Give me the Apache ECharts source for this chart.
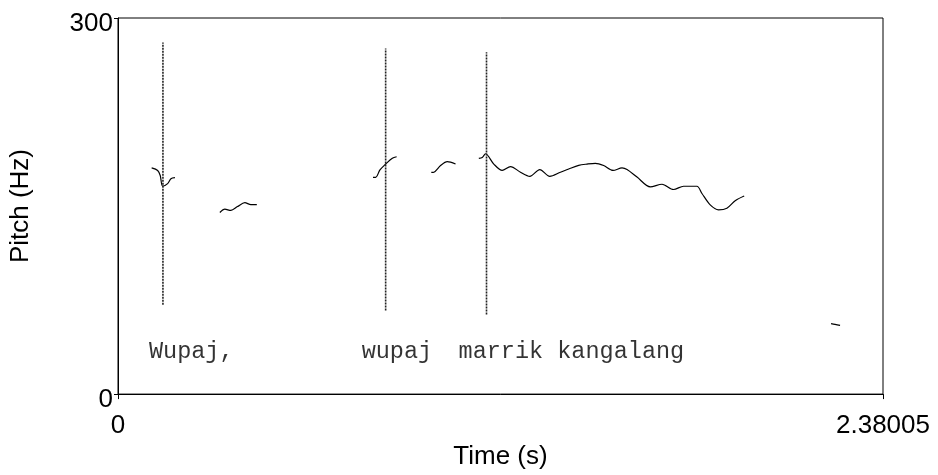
<!DOCTYPE html>
<html>
<head>
<meta charset="utf-8">
<script src="https://cdn.jsdelivr.net/npm/echarts@6/dist/echarts.min.js"></script>
<style>
  html, body { margin: 0; padding: 0; background: #fff; }
  #pitch_chart { width: 938px; height: 475px; }
</style>
</head>
<body>
<div id="pitch_chart"></div>
<script>
// pitch track, null = unvoiced gap
const pitchTimes = [
    0.1047, 0.1234, 0.1314, 0.1389, 0.1544, 0.1647, 0.1771, null,
    0.3169, 0.3325, 0.3511, 0.3719, 0.3946, 0.4133, 0.4319, null,
    0.7933, 0.8016, 0.8150, 0.8327, 0.8535, 0.8669, null,
    0.9747, 0.9828, 1.0036, 1.0244, 1.0502, null,
    1.1226, 1.1332, 1.1434, 1.1692, 1.1953, 1.2211, 1.2522, 1.2811, 1.3122, 1.3432,
    1.3765, 1.4023, 1.4333, 1.4594, 1.4852, 1.5110, 1.5402, 1.5682, 1.5837, 1.6148,
    1.6561, 1.6925, 1.7285, 1.7596, 1.8012, 1.8168, 1.8425, 1.8684, 1.8944, 1.9202,
    1.9482, null,
    2.2185, 2.2309, 2.2465
];
const pitchHz = [
    180.4, 178.4, 174.4, 165.8, 167.9, 171.8, 172.6, null,
    144.9, 147.5, 146.5, 149.6, 152.7, 151.2, 151.2, null,
    172.9, 172.9, 178.8, 183.5, 188.2, 189.3, null,
    176.8, 177.0, 182.3, 185.4, 183.5, null,
    188.0, 188.8, 191.7, 183.5, 178.4, 181.5, 177.0, 173.7, 179.1, 173.7,
    177.0, 179.6, 182.5, 183.5, 184.1, 182.3, 178.4, 180.4, 179.1, 173.1,
    165.3, 167.4, 163.2, 165.8, 165.8, 160.0, 150.9, 147.0, 148.3, 154.3,
    158.0, null,
    56.2, 55.6, 54.8
];

// word boundaries (dotted lines)
const boundaryTimes = [0.1398, 0.8327, 1.1465];
const boundaryBottom = [71.3, 66.6, 63.4];
const boundaryTop = [280.4, 275.7, 272.6];

// transcription text
const words = ["Wupaj,", "wupaj", "marrik kangalang"];
const wordTimes = [0.0963, 0.758, 1.0595];
const wordHz = [34, 34, 34];

const xTicks = [0, 2.38005];
const yTicks = [0, 300];

const chart = echarts.init(document.getElementById("pitch_chart"));

const pitchData = pitchTimes.map((t, i) =>
    (t === null || pitchHz[i] === null) ? ["-", "-"] : [t, pitchHz[i]]
);

const boundarySeries = boundaryTimes.map((t, i) => ({
    type: "line",
    data: [[t, boundaryBottom[i]], [t, boundaryTop[i]]],
    symbol: "none",
    silent: true,
    lineStyle: { color: "#222", width: 1.6, type: [2, 1] }
}));

const labelFont = "Liberation Sans, Arial, sans-serif";

chart.setOption({
    animation: false,
    grid: {
        left: 117, top: 18, right: 55, bottom: 74,
        show: true, borderColor: "#000", borderWidth: 1
    },
    xAxis: {
        type: "value",
        min: xTicks[0],
        max: xTicks[1],
        name: "Time (s)",
        nameLocation: "middle",
        nameGap: 48,
        nameTextStyle: { fontSize: 26, color: "#000", fontFamily: labelFont },
        axisLine: { show: true, lineStyle: { color: "#000", width: 1 } },
        axisTick: { show: true, length: 5, customValues: xTicks, lineStyle: { color: "#000" } },
        axisLabel: {
            customValues: xTicks,
            formatter: v => v === 0 ? "0" : "2.38005",
            fontSize: 26, color: "#000", fontFamily: labelFont, margin: 19
        },
        splitLine: { show: false }
    },
    yAxis: {
        type: "value",
        min: yTicks[0],
        max: yTicks[1],
        name: "Pitch (Hz)",
        nameLocation: "middle",
        nameGap: 84,
        nameTextStyle: { fontSize: 26, color: "#000", fontFamily: labelFont },
        axisLine: { show: true, lineStyle: { color: "#000", width: 1 } },
        axisTick: { show: true, length: 4, customValues: yTicks, lineStyle: { color: "#000" } },
        axisLabel: {
            customValues: yTicks,
            formatter: v => `{v|${v}}`,
            margin: 5,
            rich: {
                v: {
                    fontSize: 26, color: "#000", fontFamily: labelFont,
                    padding: [11, 0, 0, 0]
                }
            }
        },
        splitLine: { show: false }
    },
    series: [
        {
            type: "line",
            data: pitchData,
            symbol: "none",
            smooth: 0.3,
            connectNulls: false,
            lineStyle: { color: "#000", width: 1.2 }
        },
        ...boundarySeries,
        {
            type: "scatter",
            data: wordTimes.map((t, i) => ({ name: words[i], value: [t, wordHz[i]] })),
            symbolSize: 0,
            label: {
                show: true,
                position: "right",
                distance: 0,
                formatter: p => p.name,
                fontFamily: "Liberation Mono, Courier New, monospace",
                fontSize: 23.5,
                color: "#000"
            }
        }
    ]
});
</script>
</body>
</html>
